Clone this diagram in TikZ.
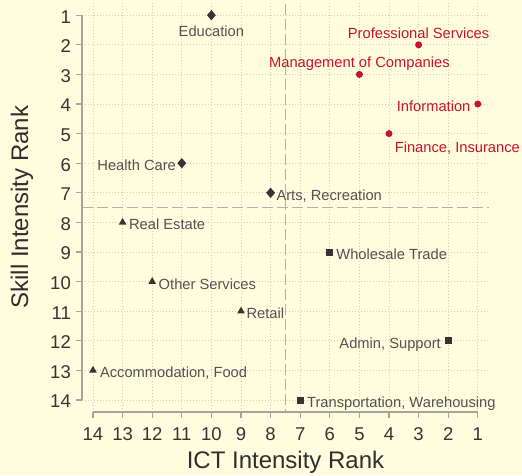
\documentclass[tikz,border=0pt]{standalone}
\usepackage{fontspec}
\setmainfont{Liberation Sans}
\usepackage{xcolor}
\usepackage{tikz}
\usetikzlibrary{positioning,shapes.geometric}

\definecolor{paper}{RGB}{255,253,222}
\definecolor{crimson}{RGB}{198,18,48}
\definecolor{ink}{RGB}{52,52,52}
\definecolor{axisgray}{RGB}{165,165,160}
\definecolor{gridgray}{RGB}{208,208,192}
\definecolor{refgray}{RGB}{178,178,172}

\begin{document}
\begin{tikzpicture}[x=29.6pt, y=29.6pt,
    lbl/.style={text=ink!85, inner sep=0pt, font=\fontsize{14.7}{16}\selectfont},
    redlbl/.style={lbl, text=crimson},
    dmd/.style={diamond, fill=ink, inner sep=0pt, minimum width=9pt, minimum height=10.5pt},
    dot/.style={circle, fill=crimson, inner sep=0pt, minimum size=7pt},
    tri/.style={regular polygon, regular polygon sides=3, fill=ink, inner sep=0pt, minimum size=9pt},
    sq/.style={rectangle, fill=ink, inner sep=0pt, minimum size=7pt},
    axisline/.style={axisgray, line width=1.2pt},
    gridline/.style={gridgray, line width=0.8pt, dash pattern=on 0.8pt off 2.2pt},
    refline/.style={refgray, line width=1.3pt, dash pattern=on 10.5pt off 4.5pt},
    ticklbl/.style={text=ink, inner sep=0pt, font=\fontsize{18.5}{20}\selectfont},
    titlelbl/.style={text=ink!90!black, inner sep=0pt, font=\fontsize{24}{26}\selectfont}]
    \fill[paper] (-93pt,-75pt) rectangle (429pt,400pt);
    \useasboundingbox (-93pt,-75pt) rectangle (429pt,400pt);

    % grid
    \foreach \k in {0,...,13} {
        \draw[gridline] (-11pt,\k) -- (395pt,\k);
        \draw[gridline] (\k,-12pt) -- (\k,397pt);
    }
    % cut-off ranks
    \draw[refline] (6.5,396pt) -- (6.5,-12pt);
    \draw[refline] (-11pt,6.5) -- (396pt,6.5);

    % axes
    \draw[axisline] (-11pt,0) -- (-11pt,13);
    \draw[axisline] (0,-12pt) -- (13,-12pt);
    \foreach \r in {1,...,14} {
        \draw[axisline] (-11pt,{14-\r}) -- ++(-6pt,0);
        \node[ticklbl, anchor=east] at (-22pt,{14-\r}) [yshift=-1.5pt] {\r};
        \draw[axisline] ({14-\r},-12pt) -- ++(0,-6pt);
        \node[ticklbl] at ({14-\r},-34pt) {\r};
    }
    \node[titlelbl] (xtitle) at (192.5pt,-62pt) {ICT Intensity Rank};
    \node[titlelbl, rotate=90] (ytitle) at (-71pt,193pt) {Skill Intensity Rank};

    % industries
    \node[dmd] (edu) at (4,13) {};
    \node[lbl, below=5pt of edu] (edutxt) {Education};
    \node[dot] (prof) at (11,12) {};
    \node[redlbl, above=3pt of prof, anchor=base] (proftxt) {Professional Services};
    \node[dot] (mgmt) at (9,11) {};
    \node[redlbl, above=3pt of mgmt, anchor=base] (mgmttxt) {Management of Companies};
    \node[dot] (info) at (13,10) {};
    \node[redlbl, left=3.5pt of info, anchor=base east, yshift=-7.5pt] (infotxt) {Information};
    \node[dot] (fin) at (10,9) {};
    \node[redlbl, below right=5pt and 3pt of fin] (fintxt) {Finance, Insurance};
    \node[dmd] (health) at (3,8) {};
    \node[lbl, left=1pt of health, anchor=base east, yshift=-7.5pt] (healthtxt) {Health Care};
    \node[dmd] (arts) at (6,7) {};
    \node[lbl, right=1pt of arts, anchor=base west, yshift=-7.5pt] (artstxt) {Arts, Recreation};
    \node[tri] (realest) at (1,6) {};
    \node[lbl, right=3.5pt of realest, anchor=base west, yshift=-7.5pt] (realesttxt) {Real Estate};
    \node[sq] (whole) at (8,5) {};
    \node[lbl, right=2.7pt of whole, anchor=base west, yshift=-7.5pt] (wholetxt) {Wholesale Trade};
    \node[tri] (other) at (2,4) {};
    \node[lbl, right=3.5pt of other, anchor=base west, yshift=-7.5pt] (othertxt) {Other Services};
    \node[tri] (retail) at (5,3) {};
    \node[lbl, right=2.5pt of retail, anchor=base west, yshift=-7.5pt] (retailtxt) {Retail};
    \node[sq] (admin) at (12,2) {};
    \node[lbl, left=3.5pt of admin, anchor=base east, yshift=-7.5pt] (admintxt) {Admin, Support};
    \node[tri] (accom) at (0,1) {};
    \node[lbl, right=4pt of accom, anchor=base west, yshift=-7.5pt] (accomtxt) {Accommodation, Food};
    \node[sq] (trans) at (7,0) {};
    \node[lbl, right=3pt of trans, anchor=base west, yshift=-7.5pt] (transtxt) {Transportation, Warehousing};
\end{tikzpicture}
\end{document}
